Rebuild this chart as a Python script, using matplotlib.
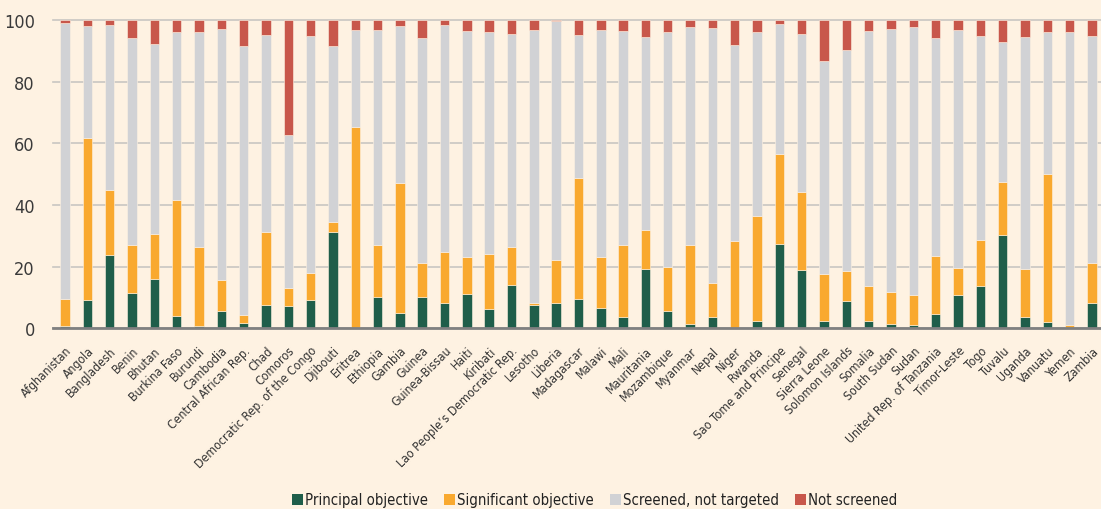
import matplotlib
matplotlib.use("Agg")
import matplotlib.pyplot as plt
import numpy as np
from matplotlib.patches import Patch

countries = ["Afghanistan", "Angola", "Bangladesh", "Benin", "Bhutan", "Burkina Faso", "Burundi",
             "Cambodia", "Central African Rep.", "Chad", "Comoros", "Democratic Rep. of the Congo",
             "Djibouti", "Eritrea", "Ethiopia", "Gambia", "Guinea", "Guinea-Bissau", "Haiti", "Kiribati",
             "Lao People\u2019s Democratic Rep.", "Lesotho", "Liberia", "Madagascar", "Malawi", "Mali",
             "Mauritania", "Mozambique", "Myanmar", "Nepal", "Niger", "Rwanda", "Sao Tome and Principe",
             "Senegal", "Sierra Leone", "Solomon Islands", "Somalia", "South Sudan", "Sudan",
             "United Rep. of Tanzania", "Timor-Leste", "Togo", "Tuvalu", "Uganda", "Vanuatu", "Yemen", "Zambia"]

principal = [0.9, 9.2, 23.9, 11.4, 15.9, 4.1, 0.8, 5.6, 1.8, 7.7, 7.4, 9.3, 31.4, 0.0, 10.3,
             5.1, 10.3, 8.2, 11.1, 6.3, 14.2, 7.7, 8.4, 9.6, 6.7, 3.8, 19.4, 5.6, 1.4, 3.8,
             0.0, 2.5, 27.4, 19.0, 2.5, 9.0, 2.5, 1.3, 1.1, 4.8, 10.8, 13.6, 30.3, 3.6, 2.2, 0.0, 8.2]
# cumulative tops
top_significant = [9.5, 61.7, 44.9, 27.1, 30.7, 41.6, 26.5, 15.7, 4.4, 31.4, 13.1, 18.1, 34.6, 65.2, 27.1,
                   47.2, 21.3, 24.8, 23.1, 24.1, 26.5, 8.4, 22.2, 48.8, 23.0, 27.0, 32.0, 20.0, 27.0, 14.7,
                   28.4, 36.5, 56.5, 44.3, 17.6, 18.5, 13.6, 11.9, 10.8, 23.4, 19.7, 28.8, 47.6, 19.4, 50.1, 1.2, 21.1]
top_screened = [99.0, 97.9, 98.5, 94.2, 92.2, 96.2, 96.0, 97.1, 91.6, 95.1, 62.7, 94.7, 91.4, 96.8, 96.8,
                97.9, 94.2, 98.2, 96.5, 96.2, 95.4, 96.8, 99.6, 95.0, 96.8, 96.4, 94.5, 96.2, 97.6, 97.3,
                91.9, 96.0, 98.7, 95.4, 86.7, 90.2, 96.4, 97.0, 97.6, 94.2, 96.8, 94.7, 93.0, 94.5, 96.0, 96.0, 94.7]

principal = np.array(principal)
significant = np.array(top_significant) - principal
screened = np.array(top_screened) - np.array(top_significant)
not_screened = 100 - np.array(top_screened)

series_names = ["Principal objective", "Significant objective", "Screened, not targeted", "Not screened"]
colors = ["#1F5E4A", "#F9A92F", "#D1D2D5", "#C8574B"]
bg = "#FEF2E2"

plt.rcParams['font.family'] = ['DejaVu Sans']
plt.rcParams['font.stretch'] = 'condensed'

fig = plt.figure(figsize=(11.01, 5.10), dpi=100, facecolor=bg)
ax = fig.add_axes([0.048, 0.354, 0.952, 0.605], facecolor=bg)

x = np.arange(len(countries))
w = 0.42
bottom = np.zeros(len(countries))
for vals, c in zip([principal, significant, screened, not_screened], colors):
    ax.bar(x, vals, w, bottom=bottom, color=c, edgecolor=bg, linewidth=0.4, zorder=3)
    bottom = bottom + vals

ax.set_ylim(0, 100)
ax.set_xlim(-0.54, len(countries) - 1 + 0.4)
ax.set_yticks([0, 20, 40, 60, 80, 100])
ax.tick_params(axis='y', length=0, labelsize=13, colors="#3A3A3A", pad=13)
ax.yaxis.grid(True, color="#C8C6C2", linewidth=1.2, zorder=0, clip_on=False)
ax.set_xticks(x)
ax.set_xticklabels(countries, rotation=45, ha='right', rotation_mode='anchor', fontsize=8.8, color="#333333")
ax.tick_params(axis='x', length=0, pad=11)
for s in ["left", "right", "top"]:
    ax.spines[s].set_visible(False)
ax.spines["bottom"].set_color("#808080")
ax.spines["bottom"].set_linewidth(2)
ax.spines["bottom"].set_zorder(4)

handles = [Patch(facecolor=c, edgecolor='none') for c in colors]
fig.legend(handles, series_names, loc='center', bbox_to_anchor=(0.54, 0.018), ncol=4,
           frameon=False, fontsize=10.7, handlelength=0.74, handleheight=0.74, handletextpad=0.15,
           columnspacing=1.07, borderpad=0, labelcolor="#222222")

fig.savefig("out.png", dpi=100, facecolor=bg)
